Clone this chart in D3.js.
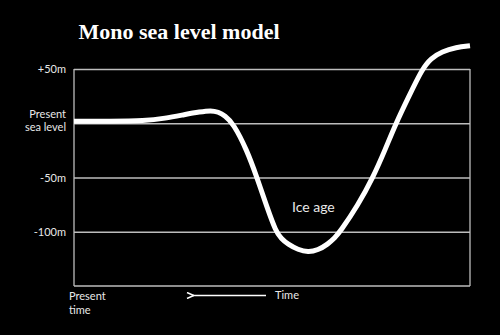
<!DOCTYPE html>
<html>
<head>
<meta charset="utf-8">
<title>Mono sea level model</title>
<style>
  body { margin: 0; background: #000; }
  .lbl { fill: #e8e8e8; font-family: Lato, "Open Sans", sans-serif; font-size: 11px; }
</style>
</head>
<body>
<script src="https://cdn.jsdelivr.net/npm/d3@7/dist/d3.min.js"></script>
<script>
// sea level model (time units 0 = present, 100 = oldest; level in metres)
const times  = [0, 9.1, 17.9, 23.0, 28.0, 31.8, 34.6, 36.4, 38.1, 40.2, 43.7, 46.2, 48.7, 51.0, 52.3, 54.0,
                56.6, 59.1, 61.6, 64.1, 65.9, 67.2, 71.7, 75.5, 78.5, 81.3, 84.6, 87.9, 90.2, 92.9, 96.5, 100];
const levels = [1.8, 1.8, 2.2, 4.5, 8, 10.5, 11.8, 10.5, 7, 0, -25, -50, -77, -100, -106, -111.5,
                -116.5, -119, -117, -111.5, -105.5, -100, -75.5, -50, -25, 0, 25, 50, 60, 66, 70, 71.5];
const gridValues = [50, 0, -50, -100];
const gridLabels = ["+50m", "Present|sea level", "-50m", "-100m"];

const W = 500, H = 335;
const plotLeft = 74, plotRight = 470, plotTop = 69, plotBottom = 286;

const x = d3.scaleLinear().domain([0, 100]).range([plotLeft, plotRight]);
const y = d3.scaleLinear().domain([-150, 50]).range([plotBottom, plotTop]);

const svg = d3.select("body").append("svg")
  .attr("width", W).attr("height", H)
  .style("background", "#000");

// title
svg.append("text")
  .attr("x", 179).attr("y", 39)
  .attr("text-anchor", "middle")
  .style("font-family", "'Liberation Serif', 'DejaVu Serif', serif")
  .style("font-weight", "bold")
  .style("font-size", "22px")
  .style("fill", "#fff")
  .text("Mono sea level model");

// gridlines + y labels
const yAxis = svg.append("g")
  .attr("transform", `translate(${plotLeft},0)`)
  .call(d3.axisLeft(y).tickValues(gridValues).tickSize(-(plotRight - plotLeft)).tickPadding(8)
    .tickFormat((d, i) => gridLabels[i]));
yAxis.select(".domain").remove();
yAxis.attr("font-family", null).attr("font-size", null);
yAxis.selectAll(".tick line").attr("stroke", "#bdbdbd").attr("stroke-width", 1.3);
yAxis.selectAll(".tick text").attr("class", "lbl").attr("fill", null)
  .each(function (d, i) {
    const parts = gridLabels[i].split("|");
    if (parts.length > 1) {
      const t = d3.select(this).text(null);
      parts.forEach((p, j) => t.append("tspan").attr("x", -8).attr("dy", j === 0 ? "-0.55em" : "1.25em").text(p));
    }
  });

// frame: left, right, bottom
const frame = svg.append("g").attr("stroke", "#bdbdbd").attr("stroke-width", 1.3);
frame.append("line").attr("x1", x(0)).attr("x2", x(0)).attr("y1", y(50)).attr("y2", y(-150));
frame.append("line").attr("x1", x(100)).attr("x2", x(100)).attr("y1", y(50)).attr("y2", y(-150));
frame.append("line").attr("x1", x(0)).attr("x2", x(100)).attr("y1", y(-150)).attr("y2", y(-150));

// curve (basis smoothing over the read-off points)
const pts = times.map((t, i) => [t, levels[i]]);
svg.append("path")
  .datum(pts)
  .attr("fill", "none")
  .attr("stroke", "#fff")
  .attr("stroke-width", 5)
  .attr("d", d3.line().x(d => x(d[0])).y(d => y(d[1])).curve(d3.curveBasis));

// x labels
svg.append("text").attr("class", "lbl").attr("x", 69).attr("y", 300).text("Present");
svg.append("text").attr("class", "lbl").attr("x", 69).attr("y", 314).text("time");

// time arrow
svg.append("defs").append("marker")
  .attr("id", "arr").attr("viewBox", "0 0 10 10").attr("refX", 1).attr("refY", 5)
  .attr("markerWidth", 5).attr("markerHeight", 5).attr("orient", "auto-start-reverse")
  .append("path").attr("d", "M0,5 L9,1 M0,5 L9,9").attr("stroke", "#fff").attr("stroke-width", 2).attr("fill", "none");
svg.append("line")
  .attr("x1", 193).attr("x2", 266).attr("y1", 295.5).attr("y2", 295.5)
  .attr("stroke", "#fff").attr("stroke-width", 1.5)
  .attr("marker-start", "url(#arr)");
svg.append("text").attr("class", "lbl").attr("x", 275).attr("y", 299).text("Time");

// annotation
svg.append("text").attr("class", "lbl").style("font-size", "14px")
  .attr("x", 292).attr("y", 212).text("Ice age");
</script>
</body>
</html>
